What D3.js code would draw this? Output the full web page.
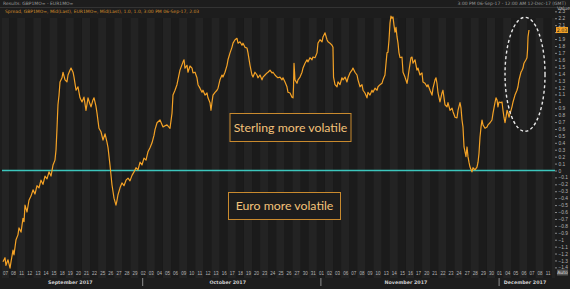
<!DOCTYPE html>
<html>
<head>
<meta charset="utf-8">
<script src="https://cdn.jsdelivr.net/npm/d3@7"></script>
<style>
  body { margin: 0; background: #1d1d1d; }
  svg { display: block; font-family: "DejaVu Sans", sans-serif; }
</style>
</head>
<body>
<div id="chart"></div>
<script>
// trading day labels, Sep 7 = day 0
var dayLabels = ["07","08","11","12","13","14","15","18","19","20","21","22","25","26","27","28","29",
  "02","03","04","05","06","09","10","11","12","13","16","17","18","19","20","23","24","25","26","27","30","31",
  "01","02","03","06","07","08","09","10","13","14","15","16","17","20","21","22","23","24","27","28","29","30",
  "01","04","05","06","07","08","11"];
var monthNames = ["September 2017", "October 2017", "November 2017", "December 2017"];
var monthStarts = [0, 17, 39, 61];

// GBP 1M vol minus EUR 1M vol (spread), x = trading day since 07-Sep
var dayPos = [-0.25,0,0.12,0.37,0.62,0.74,0.99,1.11,1.36,1.6,1.73,1.98,2.22,2.35,2.47,2.72,2.96,3.21,3.46,3.7,3.95,4.2,4.44,4.69,4.94,5.19,5.43,5.68,5.93,6.17,6.3,6.42,6.54,6.67,6.79,
  7.04,7.16,7.41,7.65,7.78,8.02,8.15,8.4,8.52,8.77,9.01,9.26,9.51,9.75,10,10.25,10.49,10.62,10.86,10.99,11.23,11.36,11.6,
  11.85,12.1,12.35,12.59,12.72,12.96,13.21,13.46,13.7,13.83,13.95,14.2,14.44,14.69,14.94,15.19,15.43,15.68,15.93,16.17,16.42,16.67,16.91,17.16,17.41,17.65,17.9,18.15,18.4,18.52,18.77,19.14,19.51,20,20.37,20.62,20.74,20.99,21.23,21.6,21.98,
  22.1,22.22,22.47,22.59,22.84,23.09,23.21,23.46,23.7,23.83,24.07,24.32,24.44,24.69,24.94,25.06,25.31,25.43,25.56,25.68,25.93,26.17,26.3,26.54,26.79,26.91,27.16,27.41,27.53,27.78,28.02,28.15,28.4,28.64,28.77,29.01,29.26,29.38,29.63,29.88,30,
  30.25,30.49,30.62,30.86,31.11,31.23,31.48,31.73,31.85,32.1,32.35,32.47,32.72,32.96,33.09,33.33,33.58,33.7,33.95,34.2,34.32,34.57,34.81,34.94,35.19,35.43,35.56,35.62,35.68,35.8,36.05,36.17,36.42,36.67,36.79,37.04,37.28,37.41,37.65,37.9,38.02,38.27,38.52,38.64,38.89,39.14,39.26,39.51,39.75,39.88,40.12,40.37,40.49,
  40.56,40.74,40.99,41.11,41.36,41.6,41.73,41.98,42.22,42.35,42.59,42.84,42.96,43.21,43.46,43.58,43.83,44.07,44.2,44.44,44.69,44.81,45.06,
  45.31,45.43,45.68,45.93,46.05,46.3,46.54,46.67,46.91,47.04,47.16,47.28,47.41,47.53,47.65,47.78,47.9,48.02,48.15,48.27,48.4,48.52,48.64,48.77,49.01,49.14,49.38,49.63,49.75,49.88,50.12,50.25,50.37,50.62,50.86,50.99,51.23,51.48,51.6,51.85,52.1,52.22,52.47,52.72,52.84,53.09,53.21,53.33,53.46,53.7,53.95,54.07,54.2,54.32,54.57,54.69,54.94,55.19,55.31,55.56,55.8,55.93,56.17,56.3,56.42,56.54,56.67,56.91,57.04,57.16,57.28,57.41,57.65,57.78,58.02,58.27,58.4,58.52,58.64,58.77,58.89,59.01,59.26,59.51,59.63,59.88,60.12,60.25,60.49,60.62,60.74,60.86,60.99,61.23,61.36,61.48,61.6,61.73,61.85,61.98,62.1,62.22,62.47,62.59,62.72,62.96,63.21,63.33,63.46,63.7,63.83,63.95,64.07,64.32,64.44,64.51,64.57,64.69];
var spread = [-1.32,-1.26,-1.37,-1.29,-1.41,-1.32,-1.15,-1.22,-1.0,-0.93,-0.83,-0.89,-0.69,-0.74,-0.5,-0.6,-0.43,-0.37,-0.28,-0.34,-0.22,-0.25,-0.14,-0.2,-0.08,-0.12,-0.02,-0.08,0.08,0.15,0.3,0.61,0.95,1.09,1.28,
  1.34,1.42,1.31,1.28,1.38,1.45,1.48,1.42,1.35,1.16,1.21,1.05,0.99,1.06,0.87,1.05,0.96,0.92,1.02,1.05,0.93,0.83,0.61,
  0.56,0.44,0.53,0.41,0.33,0.08,-0.21,-0.4,-0.5,-0.43,-0.35,-0.25,-0.18,-0.22,-0.14,-0.11,-0.15,-0.07,-0.02,0.04,0.01,0.12,0.08,0.18,0.15,0.27,0.33,0.4,0.51,0.59,0.69,0.73,0.63,0.66,0.61,0.83,1.09,1.16,1.24,1.45,1.57,
  1.6,1.48,1.52,1.42,1.51,1.48,1.41,1.42,1.34,1.24,1.19,1.13,1.16,1.09,1.12,1.05,0.98,0.87,0.99,1.09,1.13,1.16,1.19,1.31,1.38,1.35,1.42,1.52,1.6,1.7,1.78,1.84,1.89,1.91,1.84,1.86,1.81,1.84,1.78,1.77,1.7,
  1.52,1.38,1.35,1.42,1.38,1.34,1.38,1.31,1.35,1.38,1.41,1.42,1.45,1.41,1.42,1.38,1.35,1.34,1.35,1.31,1.34,1.28,1.21,1.13,1.12,1.06,1.05,1.21,1.55,1.31,1.26,1.31,1.35,1.42,1.48,1.55,1.6,1.57,1.63,1.6,1.64,1.63,1.7,1.84,1.89,1.86,1.93,1.99,1.89,1.86,1.84,1.81,1.78,
  1.35,1.24,1.21,1.28,1.24,1.34,1.31,1.35,1.28,1.34,1.41,1.45,1.48,1.42,1.38,1.31,1.21,1.24,1.16,1.12,1.05,1.13,1.09,
  1.16,1.13,1.19,1.16,1.21,1.24,1.26,1.31,1.38,1.55,1.7,1.71,1.89,2.13,2.23,2.2,2.22,2.1,2.0,2.07,1.93,1.84,1.7,1.63,1.64,1.42,1.35,1.26,1.34,1.45,1.63,1.64,1.55,1.6,1.45,1.48,1.38,1.41,1.28,1.26,1.21,1.24,1.16,1.09,1.19,1.31,1.34,1.26,1.12,0.99,1.12,1.16,1.05,0.95,0.92,0.98,0.87,0.9,0.85,0.77,0.76,0.87,0.98,0.9,0.73,0.63,0.34,0.2,0.34,0.2,0.12,0.05,-0.02,0.04,0.01,0.05,0.12,0.25,0.48,0.63,0.73,0.66,0.61,0.63,0.66,0.69,0.73,0.83,0.98,1.05,1.02,0.92,0.99,0.98,0.99,0.87,0.77,0.69,0.77,0.87,0.83,0.77,0.87,0.92,0.99,1.09,1.16,1.21,1.31,1.42,1.45,1.48,1.55,1.6,1.63,1.74,1.93,2.03];
var lastValue = 2.03;

var W = 570, H = 289;
var plotL = 2, plotR = 555, plotT = 2, plotB = 270;

var svg = d3.select("#chart").append("svg")
    .attr("width", W)
    .attr("height", H);

svg.append("rect").attr("width", W).attr("height", H).attr("fill", "#1d1d1d");

var x = d3.scaleLinear().domain([0, 67]).range([5, 547.7]);
var y = d3.scaleLinear().domain([0, 2]).range([170.5, 32.1]);

// vertical day stripes
svg.append("g")
  .selectAll("rect")
  .data(d3.range(-1, 69))
  .enter()
  .append("rect")
    .attr("x", function(d) { return Math.max(plotL, x(d - 0.5)); })
    .attr("y", 18)
    .attr("width", function(d) { return Math.max(0, Math.min(plotR, x(d + 0.5)) - Math.max(plotL, x(d - 0.5))); })
    .attr("height", 260)
    .attr("fill", function(d) { return d % 2 === 0 ? "#232323" : "#1b1b1b"; });

// header
svg.append("line").attr("x1", 0).attr("x2", W).attr("y1", 7.5).attr("y2", 7.5)
    .attr("stroke", "#333").attr("stroke-width", 1);
svg.append("text").attr("x", 3).attr("y", 5).attr("font-size", "4.5px").attr("fill", "#9a9a9a")
    .text("Results: GBP1MO= - EUR1MO=");
svg.append("text").attr("x", 5).attr("y", 13).attr("font-size", "4.5px").attr("fill", "#d08a2a")
    .text("Spread, GBP1MO=, Mid(Last), EUR1MO=, Mid(Last), 1.0, 1.0, 3:00 PM 06-Sep-17, 2.03");
svg.append("text").attr("x", 566).attr("y", 5).attr("font-size", "4.5px").attr("fill", "#9a9a9a")
    .attr("text-anchor", "end")
    .text("3:00 PM 06-Sep-17 - 12:00 AM 12-Dec-17 (GMT)");

// zero line
svg.append("line")
    .attr("x1", plotL).attr("x2", plotR)
    .attr("y1", y(0)).attr("y2", y(0))
    .attr("stroke", "#3cc6bd").attr("stroke-width", 1.6);

// series
var pts = dayPos.map(function(d, i) { return [d, spread[i]]; });
var line = d3.line()
    .x(function(d) { return x(d[0]); })
    .y(function(d) { return y(d[1]); });
svg.append("path")
    .datum(pts)
    .attr("d", line)
    .attr("fill", "none")
    .attr("stroke", "#f4a226")
    .attr("stroke-width", 1.2)
    .attr("stroke-linejoin", "round");

// dashed ellipse around latest move
svg.append("ellipse")
    .attr("cx", x(64.2)).attr("cy", y(1.39))
    .attr("rx", 20).attr("ry", 57)
    .attr("fill", "none")
    .attr("stroke", "#e8e8e8").attr("stroke-width", 1.4)
    .attr("stroke-dasharray", "3,2.5");

// annotation boxes
function note(txt, cx, cy, w, h) {
  svg.append("rect")
      .attr("x", cx - w / 2).attr("y", cy - h / 2)
      .attr("width", w).attr("height", h)
      .attr("fill", "#1d1d1d")
      .attr("stroke", "#c98a2e").attr("stroke-width", 1);
  svg.append("text")
      .attr("x", cx).attr("y", cy + 4.3)
      .attr("text-anchor", "middle")
      .attr("font-family", "Lato, sans-serif")
      .attr("font-size", "12.3px")
      .attr("fill", "#f3c27a")
      .text(txt);
}
note("Sterling more volatile", 290.5, 127.5, 121, 28);
note("Euro more volatile", 284.5, 206, 112, 27);

// right axis
var yAxis = svg.append("g")
    .attr("transform", "translate(" + plotR + ",0)")
    .call(d3.axisRight(y)
      .tickValues(d3.range(-14, 24).map(function(k) { return k / 10; }))
      .tickSize(2)
      .tickFormat(d3.format("")));
yAxis.select(".domain").remove();
yAxis.selectAll("line").attr("stroke", "#888");
yAxis.selectAll("text").attr("fill", "#b5b5b5").attr("font-size", "4.8px").attr("x", 3.5);
// the last-value marker sits over the 2.0 label
yAxis.selectAll(".tick").filter(function(d) { return Math.abs(d - 2) < 1e-6; }).select("text").remove();

svg.append("text").attr("x", 557).attr("y", 9.5).attr("font-size", "4.8px").attr("fill", "#b5b5b5").text("Value");

// last value marker
svg.append("rect").attr("x", 556).attr("y", y(lastValue) - 3).attr("width", 12).attr("height", 6).attr("fill", "#f4a226");
svg.append("text").attr("x", 562).attr("y", y(lastValue) + 1.8).attr("font-size", "4.8px").attr("fill", "#1d1d1d")
    .attr("text-anchor", "middle")
    .text(d3.format(".2f")(lastValue));

svg.append("rect").attr("x", 557).attr("y", 269.5).attr("width", 11).attr("height", 6).attr("fill", "#555");
svg.append("text").attr("x", 562.5).attr("y", 274).attr("font-size", "4.5px").attr("fill", "#ddd")
    .attr("text-anchor", "middle").text("Auto");

// bottom axis
var xAxis = svg.append("g")
    .attr("transform", "translate(0," + plotB + ")")
    .call(d3.axisBottom(x)
      .tickValues(d3.range(0, dayLabels.length))
      .tickSize(0)
      .tickFormat(function(d) { return dayLabels[d]; }));
xAxis.select(".domain").remove();
xAxis.selectAll("text").attr("fill", "#b5b5b5").attr("font-size", "4.5px").attr("dy", "0.4em");

// month separators and labels
svg.append("g").selectAll("line")
  .data(monthStarts.slice(1))
  .enter().append("line")
    .attr("x1", function(d) { return x(d); }).attr("x2", function(d) { return x(d); })
    .attr("y1", 278).attr("y2", 286)
    .attr("stroke", "#aaa").attr("stroke-width", 0.8);

svg.append("g").selectAll("text")
  .data(monthNames)
  .enter().append("text")
    .attr("x", function(d, i) {
      var a = Math.max(plotL, x(monthStarts[i] - 0.5));
      var b = i < monthStarts.length - 1 ? x(monthStarts[i + 1] - 0.5) : plotR;
      return (a + b) / 2;
    })
    .attr("y", 284)
    .attr("text-anchor", "middle")
    .attr("font-size", "4.8px")
    .attr("font-weight", "bold")
    .attr("fill", "#cfcfcf")
    .text(function(d) { return d; });
</script>
</body>
</html>
